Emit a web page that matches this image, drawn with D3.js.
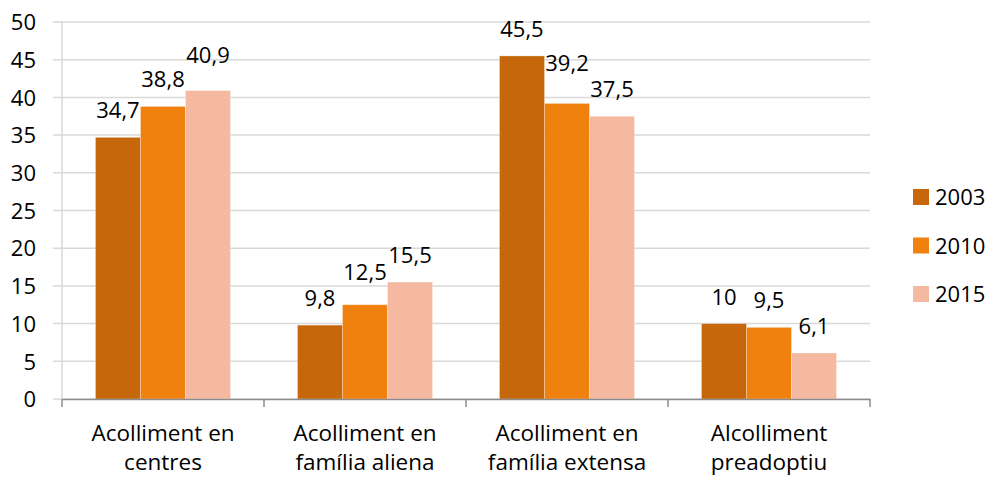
<!DOCTYPE html>
<html>
<head>
<meta charset="utf-8">
<script src="https://cdn.jsdelivr.net/npm/d3@7"></script>
<style>
  html, body { margin: 0; padding: 0; background: #fff; }
  svg text { font-family: "Open Sans", "Noto Sans", sans-serif; fill: #000; }
</style>
</head>
<body>
<svg id="chart" width="989" height="478"></svg>
<script>
// ---- data ----
const categories = [
  ["Acolliment en", "centres"],
  ["Acolliment en", "família aliena"],
  ["Acolliment en", "família extensa"],
  ["Alcolliment", "preadoptiu"]
];
const seriesNames = ["2003", "2010", "2015"];
const values2003 = [34.7, 9.8, 45.5, 10];
const values2010 = [38.8, 12.5, 39.2, 9.5];
const values2015 = [40.9, 15.5, 37.5, 6.1];
const yTicks = [0, 5, 10, 15, 20, 25, 30, 35, 40, 45, 50];
// extra upward nudge of some value labels (as in the reference)
const labelLift2003 = [0, 0, 0, 0];
const labelLift2010 = [0, 6, 13, 0];
const labelLift2015 = [9, 0, 0, 0];

const colors = ["#C5670A", "#F0810F", "#F4B9A0"];
const seriesValues = [values2003, values2010, values2015];
const seriesLift = [labelLift2003, labelLift2010, labelLift2015];

const FS = 22;
const FS_CAT = 22.5;
const svg = d3.select("#chart");
const margin = { left: 62, right: 119, top: 22, bottom: 79 };
const W = 989, H = 478;

const x0 = d3.scaleBand()
  .domain(d3.range(categories.length))
  .range([margin.left, W - margin.right])
  .paddingInner(0).paddingOuter(0);
const x1 = d3.scaleBand()
  .domain(seriesNames)
  .range([0, x0.bandwidth()])
  .paddingInner(0);
(function(){
  const bw = x0.bandwidth();
  const barW = bw * 0.2228;
  const po = (bw - 3 * barW) / 2 / barW;
  x1.paddingOuter(po);
})();

const y = d3.scaleLinear().domain([0, 50]).range([H - margin.bottom, margin.top]);

// gridlines + y axis
const yAxis = d3.axisLeft(y).tickValues(yTicks).tickSize(0).tickPadding(0);
svg.append("g").attr("class", "grid")
  .selectAll("line").data(yTicks).join("line")
  .attr("x1", margin.left - 9).attr("x2", W - margin.right)
  .attr("y1", d => y(d)).attr("y2", d => y(d))
  .attr("stroke", "#D9D9D9").attr("stroke-width", 1.5);

svg.append("line")
  .attr("x1", margin.left).attr("x2", margin.left)
  .attr("y1", y(50)).attr("y2", y(0))
  .attr("stroke", "#D9D9D9").attr("stroke-width", 1.5);

const gy = svg.append("g").attr("transform", `translate(${margin.left - 26},0)`).call(yAxis);
gy.select(".domain").remove();
gy.selectAll("text").attr("font-size", FS).attr("dy", "0.35em")
  .style("font-family", '"Open Sans", sans-serif').attr("fill", "#000");

// bars
const groups = svg.append("g").selectAll("g").data(categories).join("g")
  .attr("transform", (d, i) => `translate(${x0(i)},0)`);

seriesNames.forEach((s, si) => {
  groups.append("rect")
    .attr("x", x1(s))
    .attr("width", x1.bandwidth())
    .attr("y", (d, i) => y(seriesValues[si][i]))
    .attr("height", (d, i) => y(0) - y(seriesValues[si][i]))
    .attr("fill", colors[si])
    .attr("stroke", "rgba(255,255,255,0.35)").attr("stroke-width", 0.8);
  groups.append("text")
    .attr("x", x1(s) + x1.bandwidth() / 2)
    .attr("y", (d, i) => y(seriesValues[si][i]) - 19 - seriesLift[si][i])
    .attr("text-anchor", "middle")
    .attr("font-size", FS)
    .text((d, i) => String(seriesValues[si][i]).replace(".", ","));
});

// x axis
const xAxis = d3.axisBottom(x0).tickSize(0).tickFormat("");
const gx = svg.append("g").attr("transform", `translate(0,${y(0)})`).call(xAxis);
gx.select(".domain").attr("stroke", "#8C8C8C").attr("stroke-width", 1.5);
const boundaries = d3.range(categories.length + 1).map(i => i === categories.length ? x0.range()[1] : x0(i));
gx.selectAll(".bnd").data(boundaries).join("line").attr("class", "bnd")
  .attr("x1", d => d).attr("x2", d => d).attr("y1", 0).attr("y2", 8)
  .attr("stroke", "#8C8C8C").attr("stroke-width", 1.5);

const labels = svg.append("g").selectAll("text").data(categories).join("text")
  .attr("text-anchor", "middle").attr("font-size", FS_CAT)
  .attr("transform", (d, i) => `translate(${x0(i) + x0.bandwidth() / 2},0)`);
labels.selectAll("tspan").data(d => d).join("tspan")
  .attr("x", 0).attr("y", (d, j) => 441 + j * 29).text(d => d);

// legend
const legend = svg.append("g").selectAll("g").data(seriesNames).join("g")
  .attr("transform", (d, i) => `translate(913,${189 + i * 48.5})`);
legend.append("rect").attr("width", 16).attr("height", 16).attr("fill", (d, i) => colors[i]);
legend.append("text").attr("x", 22).attr("y", 16).attr("font-size", FS).text(d => d);
</script>
</body>
</html>
